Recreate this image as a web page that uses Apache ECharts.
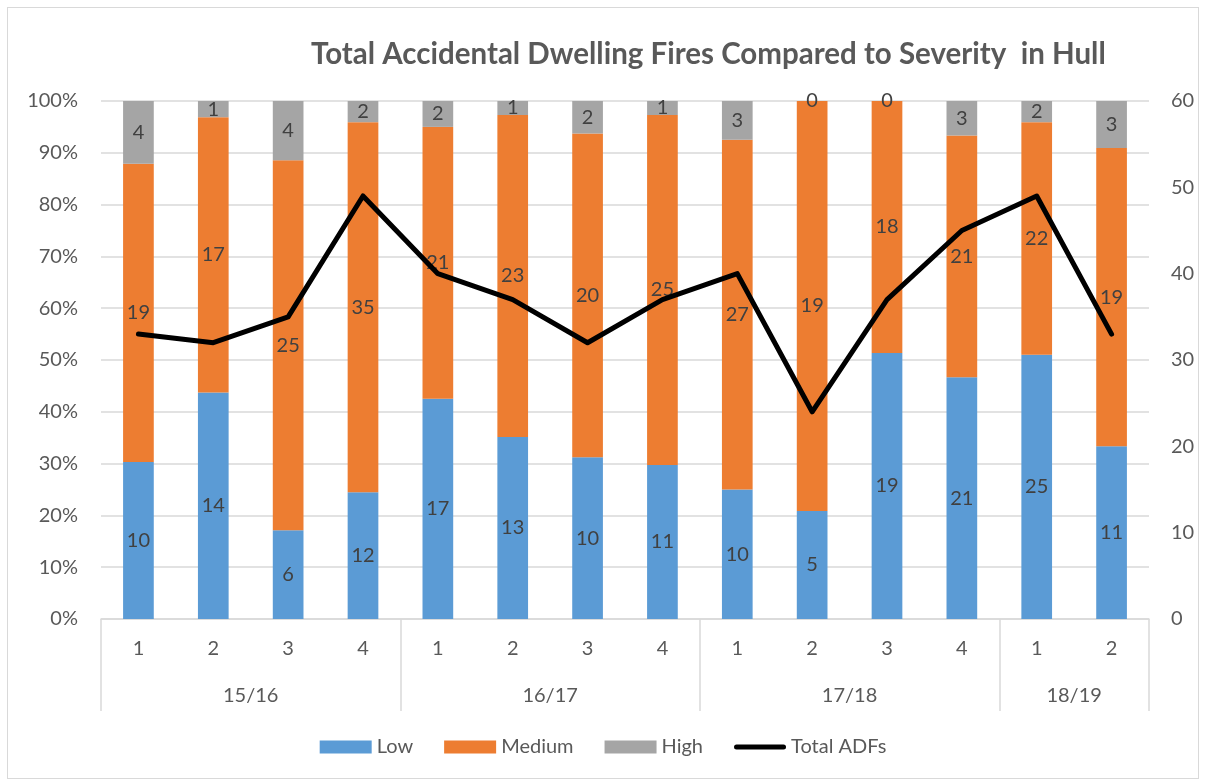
<!DOCTYPE html>
<html>
<head>
<meta charset="utf-8">
<script src="https://cdn.jsdelivr.net/npm/echarts@6/dist/echarts.min.js"></script>
<style>
  html, body { margin: 0; padding: 0; background: #fff; }
  #main { position: absolute; left: 7px; top: 7px; width: 1190px; height: 770px; border: 1px solid #d9d9d9; }
</style>
</head>
<body>
<div id="main"></div>
<script>
// quarters and financial years
const quarters = ['1', '2', '3', '4', '1', '2', '3', '4', '1', '2', '3', '4', '1', '2'];
const years = ['15/16', '16/17', '17/18', '18/19'];
const yearSizes = [4, 4, 4, 2];

// counts per severity
const low = [10, 14, 6, 12, 17, 13, 10, 11, 10, 5, 19, 21, 25, 11];
const medium = [19, 17, 25, 35, 21, 23, 20, 25, 27, 19, 18, 21, 22, 19];
const high = [4, 1, 4, 2, 2, 1, 2, 1, 3, 0, 0, 3, 2, 3];
const totalADFs = [33, 32, 35, 49, 40, 37, 32, 37, 40, 24, 37, 45, 49, 33];

const font = 'Lato';
const textColor = '#595959';
const fs = 20;

// second level axis: half-slot positions, year label in the middle of each group
const yearSlots = [];
const yearTicks = {};
let pos = 0;
years.forEach((y, i) => {
  yearTicks[pos * 2] = true;
  for (let k = 0; k < yearSizes[i] * 2; k++) yearSlots.push('');
  yearSlots[pos * 2 + yearSizes[i]] = y;
  pos += yearSizes[i];
});
yearSlots.push('');
yearTicks[pos * 2] = true;

function share(arr) {
  return arr.map((v, i) => {
    const t = low[i] + medium[i] + high[i];
    return t ? v / t * 100 : 0;
  });
}

function barSeries(name, counts, color) {
  return {
    name: name,
    type: 'bar',
    stack: 'sev',
    barWidth: '41%',
    itemStyle: { color: color },
    data: share(counts),
    label: {
      show: true,
      position: 'inside',
      color: '#404040',
      fontSize: fs,
      fontFamily: font,
      formatter: p => counts[p.dataIndex]
    }
  };
}

const myChart = echarts.init(document.getElementById('main'));
myChart.setOption({
  animation: false,
  textStyle: { fontFamily: font },
  title: {
    text: 'Total Accidental Dwelling Fires Compared to Severity  in Hull',
    left: 298,
    top: 26,
    textStyle: { fontSize: 29.5, fontWeight: 'bold', color: textColor, fontFamily: font }
  },
  legend: {
    bottom: 16,
    left: 'center',
    itemWidth: 52,
    itemHeight: 13,
    itemGap: 31,
    textStyle: { fontSize: fs, color: textColor, fontFamily: font },
    data: [
      { name: 'Low', icon: 'rect' },
      { name: 'Medium', icon: 'rect' },
      { name: 'High', icon: 'rect' },
      { name: 'Total ADFs', icon: 'path://M2.5,0 L49.5,0 A2.5,2.5 0 0 1 49.5,5 L2.5,5 A2.5,2.5 0 0 1 2.5,0 Z' }
    ]
  },
  grid: { left: 93, right: 49, top: 93, bottom: 159 },
  xAxis: [
    {
      type: 'category',
      data: quarters,
      axisLine: { lineStyle: { color: '#d9d9d9', width: 1.5 } },
      axisTick: { show: false },
      axisLabel: { color: textColor, fontSize: fs, margin: 20, fontFamily: font }
    },
    {
      type: 'category',
      data: yearSlots,
      boundaryGap: false,
      position: 'bottom',
      axisLine: { show: false },
      axisTick: {
        show: true,
        length: 92,
        interval: (i) => !!yearTicks[i],
        lineStyle: { color: '#d9d9d9', width: 1.5 }
      },
      axisLabel: {
        interval: 0,
        color: textColor,
        fontSize: fs,
        margin: 67,
        fontFamily: font
      }
    }
  ],
  yAxis: [
    {
      type: 'value',
      min: 0,
      max: 100,
      interval: 10,
      axisLine: { show: false },
      axisTick: { show: false },
      splitLine: { lineStyle: { color: '#d9d9d9', width: 1.5 } },
      axisLabel: { formatter: '{value}%', color: textColor, fontSize: fs, margin: 23, fontFamily: font }
    },
    {
      type: 'value',
      min: 0,
      max: 60,
      interval: 10,
      axisLine: { show: false },
      axisTick: { show: false },
      splitLine: { show: false },
      axisLabel: { color: textColor, fontSize: fs, margin: 22, fontFamily: font }
    }
  ],
  series: [
    barSeries('Low', low, '#5b9bd5'),
    barSeries('Medium', medium, '#ed7d31'),
    barSeries('High', high, '#a5a5a5'),
    {
      name: 'Total ADFs',
      type: 'line',
      yAxisIndex: 1,
      data: totalADFs,
      symbol: 'none',
      z: 5,
      lineStyle: { color: '#000', width: 5, cap: 'round', join: 'round' },
      itemStyle: { color: '#000' }
    }
  ]
});
</script>
</body>
</html>
